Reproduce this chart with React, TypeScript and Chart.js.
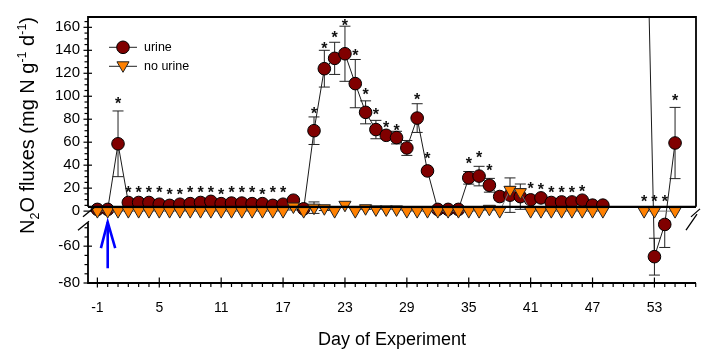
import React, { useEffect, useRef } from 'react';
import { Chart, registerables, LinearScale } from 'chart.js';

// ---------------- data ----------------
const days = [-1, 0, 1, 2, 3, 4, 5, 6, 7, 8, 9, 10, 11, 12, 13, 14, 15, 16, 17, 18, 19, 20, 21, 22, 23, 24, 25, 26, 27, 28, 29, 30, 31, 32, 33, 34, 35, 36, 37, 38, 39, 40, 41, 42, 43, 44, 45, 46, 47, 48, 49, 50, 51, 52, 53, 54, 55];

const urine = [1.5, 1.5, 58.6, 7.5, 7.5, 7.5, 6, 5, 6, 6.5, 7.5, 8.5, 6.5, 7, 7, 6.5, 6.5, 5, 6, 9.5, 2, 70, 124, 133, 137, 111, 86, 71, 66, 64, 55, 81, 35, 1.5, 1.5, 1.5, 29, 30.5, 22.5, 12.7, 13.9, 12.6, 9.8, 11.5, 7.5, 8, 8, 9.5, 5.2, 5.2, null, null, null, 370, -65.7, -48.2, 59.3];
const urineErr = [0, 0, 28.6, 0, 0, 0, 0, 0, 0, 0, 0, 0, 0, 0, 0, 0, 0, 0, 0, 0, 0, 12, 16, 14, 24, 21, 10, 8, 3, 5.5, 6.5, 12.5, 3, 0, 0, 0, 5.5, 8.5, 6, 3, 15, 11, 2, 2, 1, 1, 1, 1, 1, 1, null, null, null, null, 10, 12.5, 31];

const noUrine = [0, 0, 0, 0, 0, 0, 0, 0, 0, 0, 0, 0, 0, 0, 0, 0, 0, 0, 0, 4, 0, 3, 2.5, 0, 5.5, 0, 2.5, 1.5, 1.5, 1.5, 0, 0, 0, 0, 0, 0, 0, 0, 2, 0, 18.5, 16.5, 0, 0, 0, 0, 0, 0, 0, 0, null, null, null, 0, 0, null, 0];
const noUrineErr = [0, 0, 0, 0, 0, 0, 0, 0, 0, 0, 0, 0, 0, 0, 0, 0, 0, 0, 0, 3, 0, 5, 2, 0, 2, 0, 1, 0, 0, 0, 0, 0, 0, 0, 0, 0, 0, 0, 1, 0, 3, 3, 0, 0, 0, 0, 0, 0, 0, 0, null, null, null, 0, 0, null, 0];

const starDays = [1, 2, 3, 4, 5, 6, 7, 8, 9, 10, 11, 12, 13, 14, 15, 16, 17, 20, 21, 22, 23, 24, 25, 26, 27, 28, 30, 31, 35, 36, 37, 41, 42, 43, 44, 45, 46, 52, 53, 54, 55];
const starValues = [96.4, 18.4, 18.4, 18.4, 18.4, 17, 17, 18.4, 18.4, 19, 17, 19, 19, 18.4, 17, 19, 19, 87.8, 144.3, 153.7, 164.4, 138, 104.2, 86.4, 75.8, 72.9, 99.9, 48.3, 44, 49, 37.6, 22.5, 21.3, 19, 19, 19, 19.9, 11, 11, 11, 98.7];

const seriesLabels = ['urine', 'no urine'];
const xTickValues = [-1, 5, 11, 17, 23, 29, 35, 41, 47, 53];
const yTickValues = [-80, -60, 0, 20, 40, 60, 80, 100, 120, 140, 160];
const yMinorLower = [-80, -75, -70, -65, -60, -55, -50];
const yMinorUpper = [0, 5, 10, 15, 20, 25, 30, 35, 40, 45, 50, 55, 60, 65, 70, 75, 80, 85, 90, 95, 100, 105, 110, 115, 120, 125, 130, 135, 140, 145, 150, 155, 160, 165];
const xTitle = 'Day of Experiment';
const yTitleParts: [string, string][] = [['N', 'n'], ['2', 'sub'], ['O fluxes (mg N g', 'n'], ['-1', 'sup'], [' d', 'n'], ['-1', 'sup'], [')', 'n']];
const arrowDay = 0;
const arrowFrom = -72;
const arrowTo = -46;

// ------------- broken axis layout -------------
const Y_BREAK_VALUES = [-80, -47, -4, 169];
const Y_BREAK_SIZES = [61.5, 6.6, 201.1];
const FRAME_BASE = 3.7;
const X_MIN = -1.91;
const X_MAX = 57.03;

const FONT = '"Liberation Sans", Arial, sans-serif';
const URINE_FILL = '#800000';
const NOURINE_FILL = '#ff8000';

class BrokenScale extends LinearScale {
  static id = 'broken';
  static defaults = LinearScale.defaults;
  toDecimal(v: number) {
    const b = Y_BREAK_VALUES;
    const s = Y_BREAK_SIZES;
    const total = s.reduce((a, c) => a + c, 0);
    let acc = 0;
    let i = 0;
    while (i < s.length - 1 && v > b[i + 1]) {
      acc += s[i];
      i++;
    }
    const frac = (v - b[i]) / (b[i + 1] - b[i]);
    return (acc + frac * s[i]) / total;
  }
  getPixelForValue(value: any) {
    if (value === null || value === undefined || isNaN(value)) return NaN;
    return this.getPixelForDecimal(this.toDecimal(+value));
  }
  getValueForPixel(pixel: number) {
    const d = this.getDecimalForPixel(pixel);
    const b = Y_BREAK_VALUES;
    const s = Y_BREAK_SIZES;
    const total = s.reduce((a, c) => a + c, 0);
    let pos = d * total;
    let i = 0;
    while (i < s.length - 1 && pos > s[i]) {
      pos -= s[i];
      i++;
    }
    return b[i] + (pos / s[i]) * (b[i + 1] - b[i]);
  }
}

Chart.register(...registerables, BrokenScale as any);

function drawCircle(ctx: CanvasRenderingContext2D, x: number, y: number, r: number) {
  ctx.beginPath();
  ctx.arc(x, y, r, 0, Math.PI * 2);
  ctx.fillStyle = URINE_FILL;
  ctx.fill();
  ctx.lineWidth = 1;
  ctx.strokeStyle = '#000';
  ctx.stroke();
}
function drawTriangleDown(ctx: CanvasRenderingContext2D, x: number, y: number, r: number) {
  ctx.beginPath();
  ctx.moveTo(x, y + r);
  ctx.lineTo(x - r * 0.866, y - r * 0.5);
  ctx.lineTo(x + r * 0.866, y - r * 0.5);
  ctx.closePath();
  ctx.fillStyle = NOURINE_FILL;
  ctx.fill();
  ctx.lineWidth = 1;
  ctx.strokeStyle = '#222';
  ctx.stroke();
}

const decorPlugin = {
  id: 'decor',
  beforeDatasetsDraw(chart: any) {
    const { ctx, chartArea: ca, scales } = chart;
    const x = scales.x;
    const y = scales.y;
    ctx.save();
    ctx.beginPath();
    ctx.rect(ca.left, ca.top, ca.right - ca.left, ca.bottom - ca.top);
    ctx.clip();
    ctx.strokeStyle = '#222';
    ctx.lineWidth = 1;
    const CAP = 5.5;
    const sets: [any[], any[]][] = [[urine, urineErr], [noUrine, noUrineErr]];
    for (const [vals, errs] of sets) {
      days.forEach((d, i) => {
        const v = vals[i];
        const e = errs[i];
        if (v === null || !e) return;
        const px = x.getPixelForValue(d);
        const y1 = y.getPixelForValue(v + e);
        const y2 = y.getPixelForValue(v - e);
        ctx.beginPath();
        ctx.moveTo(px, y1);
        ctx.lineTo(px, y2);
        ctx.moveTo(px - CAP, y1);
        ctx.lineTo(px + CAP, y1);
        ctx.moveTo(px - CAP, y2);
        ctx.lineTo(px + CAP, y2);
        ctx.stroke();
      });
    }
    ctx.restore();
  },
  afterDatasetsDraw(chart: any) {
    const { ctx, chartArea: ca, scales } = chart;
    const x = scales.x;
    const y = scales.y;
    const L = ca.left, R = ca.right, T = ca.top, B = ca.bottom;
    const yBase = y.getPixelForValue(FRAME_BASE);
    const yLowTop = y.getPixelForValue(Y_BREAK_VALUES[1]);
    const line = (x1: number, y1: number, x2: number, y2: number) => {
      ctx.beginPath();
      ctx.moveTo(x1, y1);
      ctx.lineTo(x2, y2);
      ctx.stroke();
    };
    ctx.save();
    ctx.strokeStyle = '#000';
    // frame / axes
    ctx.lineWidth = 1.8;
    line(L, T, R, T);
    line(R, T - 0.9, R, yBase);
    line(L, T - 0.9, L, yBase);
    line(L, yLowTop, L, B + 0.9);
    line(L, B, R, B);
    ctx.lineWidth = 2.4;
    line(L, yBase, R, yBase);
    // y ticks
    ctx.lineWidth = 1.2;
    for (const v of [...yMinorLower, ...yMinorUpper]) {
      const py = y.getPixelForValue(v);
      if (yTickValues.includes(v)) line(L - 4.5, py, L + 4, py);
      else line(L - 3.5, py, L, py);
    }
    // x ticks
    for (let d = Math.ceil(X_MIN); d <= Math.floor(X_MAX); d++) {
      const px = x.getPixelForValue(d);
      if (xTickValues.includes(d)) line(px, B - 5.5, px, B + 4.5);
      else line(px, B, px, B + 4);
    }
    // break marks
    ctx.lineWidth = 1.3;
    line(L - 5, yBase + 10, L + 6, yBase + 1);
    line(L - 10, yLowTop + 8, L + 1, yLowTop - 1);
    line(R - 10, yLowTop + 8, R + 1, yLowTop - 8);
    line(R - 5, yBase + 10, R + 4, yBase + 2);

    // stars
    ctx.font = 'bold 16px ' + FONT;
    ctx.fillStyle = '#111';
    ctx.textAlign = 'center';
    ctx.textBaseline = 'alphabetic';
    const m = ctx.measureText('*');
    const off = (m.actualBoundingBoxAscent - m.actualBoundingBoxDescent) / 2;
    starDays.forEach((d, i) => {
      ctx.fillText('*', x.getPixelForValue(d), y.getPixelForValue(starValues[i]) + off);
    });

    // arrow
    const ax = x.getPixelForValue(arrowDay);
    const ay1 = y.getPixelForValue(arrowFrom);
    const ay2 = y.getPixelForValue(arrowTo);
    ctx.strokeStyle = '#0000ff';
    ctx.lineWidth = 2.6;
    line(ax, ay1, ax, ay2);
    ctx.beginPath();
    ctx.moveTo(ax - 6.8, ay2 + 26);
    ctx.lineTo(ax, ay2);
    ctx.lineTo(ax + 7.5, ay2 + 26);
    ctx.stroke();

    // legend
    const ds = chart.data.datasets;
    ctx.font = '12.5px ' + FONT;
    ctx.textAlign = 'left';
    ctx.textBaseline = 'middle';
    [0, 1].forEach((k) => {
      const ly = T + 30.3 + k * 19;
      ctx.strokeStyle = '#222';
      ctx.lineWidth = 1;
      line(L + 21, ly, L + 49, ly);
      if (k === 0) drawCircle(ctx, L + 35, ly, 6.3);
      else drawTriangleDown(ctx, L + 35, ly - 1, 7);
      ctx.fillStyle = '#000';
      ctx.fillText(ds[k].label, L + 56, ly);
    });

    // y title (rich text with sub/superscripts)
    const size = 20;
    const small = 12.5;
    const fontOf = (k: string) => `${k === 'n' ? size : small}px ${FONT}`;
    let total = 0;
    const widths = yTitleParts.map(([t, k]) => {
      ctx.font = fontOf(k);
      const w = ctx.measureText(t).width;
      total += w;
      return w;
    });
    ctx.save();
    ctx.translate(34, 125.5);
    ctx.rotate(-Math.PI / 2);
    ctx.fillStyle = '#000';
    ctx.textBaseline = 'alphabetic';
    ctx.textAlign = 'left';
    let xx = -total / 2;
    yTitleParts.forEach(([t, k], i) => {
      ctx.font = fontOf(k);
      const dy = k === 'sub' ? 4.5 : k === 'sup' ? -8.5 : 0;
      ctx.fillText(t, xx, dy);
      xx += widths[i];
    });
    ctx.restore();

    ctx.restore();
  },
};

export default function App() {
  const ref = useRef<HTMLCanvasElement>(null);
  useEffect(() => {
    document.body.style.margin = '0';
    const toPoints = (vals: (number | null)[]) =>
      days.map((d, i) => ({ x: d, y: vals[i] })).filter((p) => p.y !== null);
    const chart = new Chart(ref.current as HTMLCanvasElement, {
      type: 'line',
      data: {
        datasets: [
          {
            label: seriesLabels[0],
            data: toPoints(urine),
            borderColor: '#1a1a1a',
            borderWidth: 1,
            pointStyle: 'circle',
            pointRadius: 6.3,
            pointBackgroundColor: URINE_FILL,
            pointBorderColor: '#000',
            pointBorderWidth: 1,
            spanGaps: 3,
            tension: 0,
            order: 2,
          } as any,
          {
            label: seriesLabels[1],
            data: toPoints(noUrine),
            borderColor: '#777',
            borderWidth: 1,
            pointStyle: 'triangle',
            pointRotation: 180,
            pointRadius: 7,
            pointBackgroundColor: NOURINE_FILL,
            pointBorderColor: '#222',
            pointBorderWidth: 1,
            spanGaps: 3,
            tension: 0,
            order: 1,
          } as any,
        ],
      },
      options: {
        responsive: false,
        animation: false,
        devicePixelRatio: 1,
        events: [],
        layout: { padding: { top: 14, right: 2, left: 0, bottom: 0 } },
        plugins: { legend: { display: false }, tooltip: { enabled: false }, title: { display: false } },
        scales: {
          x: {
            type: 'linear',
            min: X_MIN,
            max: X_MAX,
            grid: { display: false, drawTicks: false },
            border: { display: false },
            ticks: {
              autoSkip: false,
              maxRotation: 0,
              padding: 17,
              color: '#000',
              font: { family: FONT, size: 14 },
              callback: (v: any) => String(v),
            },
            afterBuildTicks: (s: any) => {
              s.ticks = xTickValues.map((v) => ({ value: v }));
            },
            afterFit: (s: any) => {
              s.height = 69;
            },
            title: { display: true, text: xTitle, color: '#000', font: { family: FONT, size: 18 }, padding: { top: 0, bottom: 1 } },
          },
          y: {
            type: 'broken' as any,
            min: Y_BREAK_VALUES[0],
            max: Y_BREAK_VALUES[Y_BREAK_VALUES.length - 1],
            grid: { display: false, drawTicks: false },
            border: { display: false },
            ticks: {
              autoSkip: false,
              padding: 8,
              color: '#000',
              font: { family: FONT, size: 15 },
              callback: (v: any) => String(v),
            },
            afterBuildTicks: (s: any) => {
              s.ticks = yTickValues.map((v) => ({ value: v }));
            },
            afterFit: (s: any) => {
              s.width = 88;
            },
          } as any,
        },
      },
      plugins: [decorPlugin],
    });
    return () => chart.destroy();
  }, []);
  return (
    <div style={{ width: 704, height: 352 }}>
      <canvas ref={ref} width={704} height={352} style={{ display: 'block' }} />
    </div>
  );
}
